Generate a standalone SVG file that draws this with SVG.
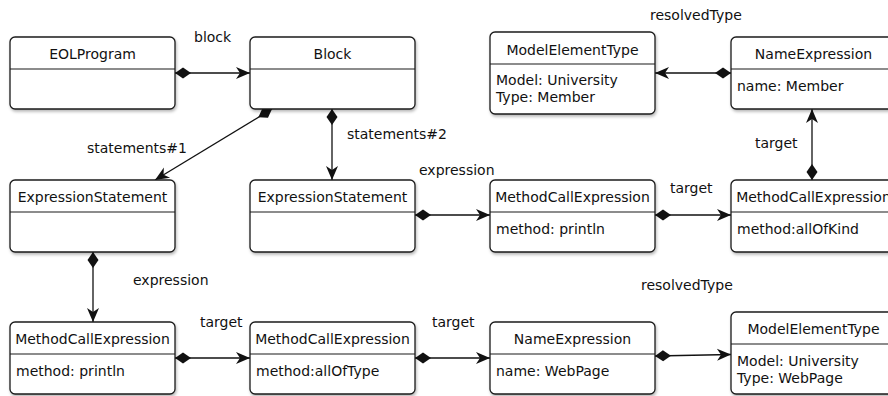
<svg xmlns="http://www.w3.org/2000/svg" width="888" height="396" viewBox="0 0 888 396">
<style>
  .box{fill:#fff;stroke:#1a1a1a;stroke-width:1.3;filter:url(#sh)}
  .div{stroke:#1a1a1a;stroke-width:1.2}
  text{font-family:"DejaVu Sans","Liberation Sans",sans-serif;font-size:14px;fill:#111}
  .h{text-anchor:middle}
  .c{fill:none;stroke:#111;stroke-width:1.3;marker-start:url(#dia);marker-end:url(#arr)}
</style>
<defs>
  <filter id="sh" x="-10%" y="-10%" width="130%" height="130%">
    <feDropShadow dx="1" dy="2" stdDeviation="1.5" flood-color="#000" flood-opacity="0.28"/>
  </filter>
  <marker id="dia" markerUnits="userSpaceOnUse" markerWidth="20" markerHeight="14" refX="0" refY="6" orient="auto" overflow="visible">
    <path d="M0,6 L8,0.5 L16,6 L8,11.5 Z" fill="#111"/>
  </marker>
  <marker id="arr" markerUnits="userSpaceOnUse" markerWidth="16" markerHeight="14" refX="14" refY="6" orient="auto" overflow="visible">
    <path d="M14,6 L0,0 L4,6 L0,12 Z" fill="#111"/>
  </marker>
</defs>

<g id="connectors">
  <path class="c" d="M175,73 L250,73"/>
  <path class="c" d="M272,109 L155,180"/>
  <path class="c" d="M332,109 L332,180"/>
  <path class="c" d="M415,215 L490,215"/>
  <path class="c" d="M655,215 L731,215"/>
  <path class="c" d="M812,180 L812,109"/>
  <path class="c" d="M731,73 L655,73"/>
  <path class="c" d="M93,252 L93,322"/>
  <path class="c" d="M175,358 L250,358"/>
  <path class="c" d="M415,358 L490,358"/>
  <path class="c" d="M655,356 L731,354.5"/>
</g>

<g id="labels">
  <text x="194" y="42">block</text>
  <text x="87" y="153">statements#1</text>
  <text x="347" y="139">statements#2</text>
  <text x="419" y="175">expression</text>
  <text x="650" y="20">resolvedType</text>
  <text x="755" y="148">target</text>
  <text x="670" y="193">target</text>
  <text x="133" y="285">expression</text>
  <text x="200" y="327">target</text>
  <text x="432" y="327">target</text>
  <text x="641" y="290">resolvedType</text>
</g>

<g id="n1"><rect class="box" x="10" y="37" width="165" height="72" rx="5"/><line class="div" x1="10" y1="69" x2="175" y2="69"/><text class="h" x="92.5" y="59">EOLProgram</text></g>
<g id="n2"><rect class="box" x="250" y="37" width="165" height="72" rx="5"/><line class="div" x1="250" y1="69" x2="415" y2="69"/><text class="h" x="332.5" y="59">Block</text></g>
<g id="n3"><rect class="box" x="490" y="32" width="165" height="82" rx="5"/><line class="div" x1="490" y1="64" x2="655" y2="64"/><text class="h" x="572.5" y="55">ModelElementType</text><text x="496" y="85">Model: University</text><text x="496" y="102">Type: Member</text></g>
<g id="n4"><rect class="box" x="731" y="37" width="165" height="72" rx="5"/><line class="div" x1="731" y1="69" x2="896" y2="69"/><text class="h" x="813.5" y="59">NameExpression</text><text x="737" y="91">name: Member</text></g>
<g id="n5"><rect class="box" x="10" y="180" width="165" height="72" rx="5"/><line class="div" x1="10" y1="212" x2="175" y2="212"/><text class="h" x="92.5" y="202">ExpressionStatement</text></g>
<g id="n6"><rect class="box" x="250" y="180" width="165" height="72" rx="5"/><line class="div" x1="250" y1="212" x2="415" y2="212"/><text class="h" x="332.5" y="202">ExpressionStatement</text></g>
<g id="n7"><rect class="box" x="490" y="180" width="165" height="72" rx="5"/><line class="div" x1="490" y1="212" x2="655" y2="212"/><text class="h" x="572.5" y="202">MethodCallExpression</text><text x="496" y="234">method: println</text></g>
<g id="n8"><rect class="box" x="731" y="180" width="165" height="72" rx="5"/><line class="div" x1="731" y1="212" x2="896" y2="212"/><text class="h" x="813.5" y="202">MethodCallExpression</text><text x="737" y="234">method:allOfKind</text></g>
<g id="n9"><rect class="box" x="10" y="322" width="165" height="72" rx="5"/><line class="div" x1="10" y1="354" x2="175" y2="354"/><text class="h" x="92.5" y="344">MethodCallExpression</text><text x="16" y="376">method: println</text></g>
<g id="n10"><rect class="box" x="250" y="322" width="165" height="72" rx="5"/><line class="div" x1="250" y1="354" x2="415" y2="354"/><text class="h" x="332.5" y="344">MethodCallExpression</text><text x="256" y="376">method:allOfType</text></g>
<g id="n11"><rect class="box" x="490" y="322" width="165" height="72" rx="5"/><line class="div" x1="490" y1="354" x2="655" y2="354"/><text class="h" x="572.5" y="344">NameExpression</text><text x="496" y="376">name: WebPage</text></g>
<g id="n12"><rect class="box" x="731" y="312" width="165" height="82" rx="5"/><line class="div" x1="731" y1="344" x2="896" y2="344"/><text class="h" x="813.5" y="334">ModelElementType</text><text x="737" y="366">Model: University</text><text x="737" y="383">Type: WebPage</text></g>
</svg>
